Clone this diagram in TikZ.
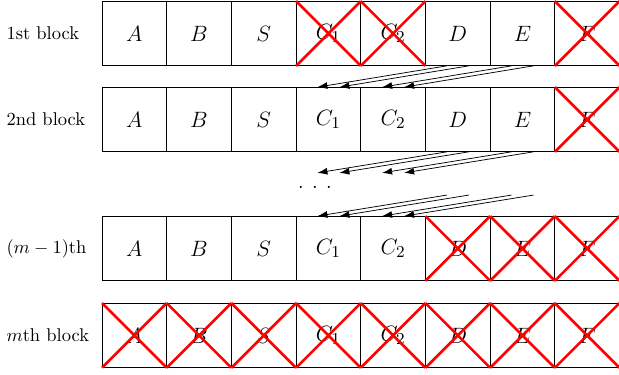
\documentclass[tikz,border=0pt]{standalone}
\usetikzlibrary{calc, arrows.meta}

\tikzset{
    cell/.style={draw, minimum size=1.23cm, inner sep=0pt, outer sep=0pt,
        font=\fontsize{13}{16}\selectfont},
    gone/.style={red, line width=1.4pt},
    carry/.style={-{Latex[length=1.9mm, width=1.3mm]}, thin},
}

\begin{document}
\begin{tikzpicture}
    \useasboundingbox (0,0) rectangle (11.77,-7.13);

    % Row labels
    \node[anchor=west] (blk1) at (0,-0.637) {1st block};
    \node[anchor=west] (blk2) at (0,-2.272) {2nd block};
    \node[anchor=west] (blk3) at (0,-4.724) {$(m-1)$th};
    \node[anchor=west] (blk4) at (0,-6.378) {$m$th block};

    % Cells of each block
    \foreach \r/\y in {1/-0.637, 2/-2.272, 3/-4.724, 4/-6.378} {
        \foreach \lab/\nm [count=\i] in {A/a, B/b, S/s, C_1/ca, C_2/cb, D/d, E/e, F/f}
            \node[cell] (\nm\r) at ({2.555+1.23*(\i-1)}, \y) {$\lab$};
    }

    % Crossed out cells
    \foreach \c in {ca1, cb1, f1, f2, d3, e3, f3, a4, b4, s4, ca4, cb4, d4, e4, f4}
        \draw[gone] (\c.north west) -- (\c.south east) (\c.north east) -- (\c.south west);

    % Entries moved two places to the left
    \foreach \t/\k in {0.33/p, 0.67/q} {
        \draw[carry] ($(d1.south west)!\t!(d1.south east)$) -- ($(ca2.north west)!\t!(ca2.north east)$);
        \draw[carry] ($(e1.south west)!\t!(e1.south east)$) -- ($(cb2.north west)!\t!(cb2.north east)$);

        \coordinate (ca\k) at ($(ca2.south west)!\t!(ca2.south east) + (0,-0.4)$);
        \coordinate (cb\k) at ($(cb2.south west)!\t!(cb2.south east) + (0,-0.4)$);
        \draw[carry] ($(d2.south west)!\t!(d2.south east)$) -- (ca\k);
        \draw[carry] ($(e2.south west)!\t!(e2.south east)$) -- (cb\k);

        \coordinate (d\k) at ($(d3.north west)!\t!(d3.north east) + (0,0.4)$);
        \coordinate (e\k) at ($(e3.north west)!\t!(e3.north east) + (0,0.4)$);
        \draw[carry] (d\k) -- ($(ca3.north west)!\t!(ca3.north east)$);
        \draw[carry] (e\k) -- ($(cb3.north west)!\t!(cb3.north east)$);
    }

    % Skipped blocks
    \node (skip) at (5.99,-3.58) {\fontsize{11}{13}\selectfont ${\cdot}\mkern7.5mu{\cdot}\mkern7.5mu{\cdot}$};
\end{tikzpicture}
\end{document}
